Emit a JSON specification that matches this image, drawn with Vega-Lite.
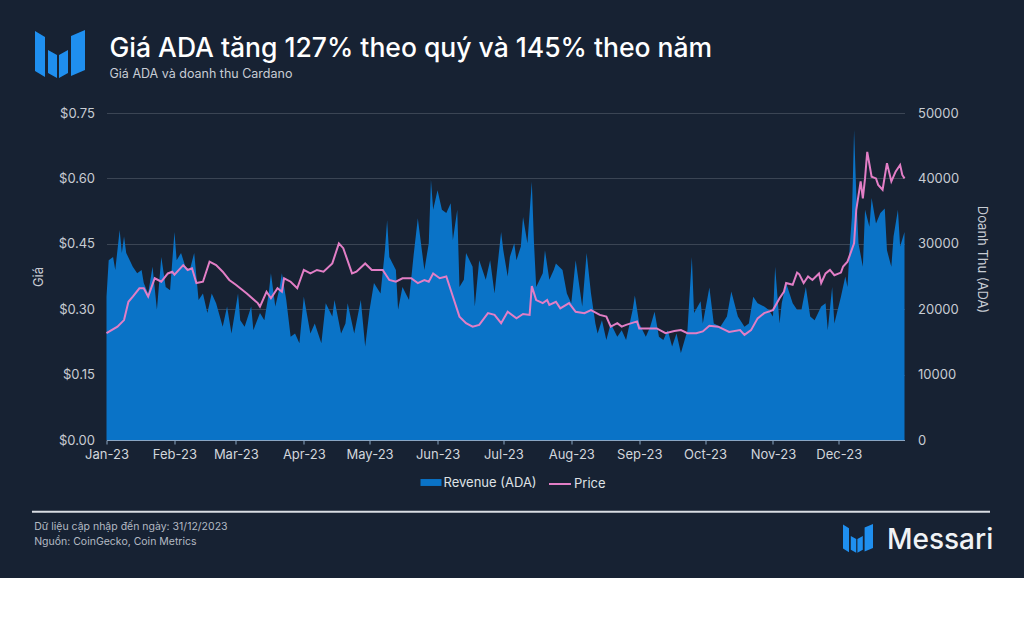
{
  "$schema": "https://vega.github.io/schema/vega-lite/v6.json",
  "width": 798,
  "height": 327,
  "autosize": {"type": "none"},
  "padding": {"left": 106.5, "top": 113, "right": 119.5, "bottom": 138},
  "background": "#172233",
  "config": {"view": {"stroke": null}, "font": "Inter"},
  "title": {
    "text": "Giá ADA tăng 127% theo quý và 145% theo năm",
    "subtitle": "Giá ADA và doanh thu Cardano",
    "anchor": "start",
    "frame": "group",
    "offset": -50,
    "dx": 3,
    "font": "Inter",
    "fontSize": 26.5,
    "fontWeight": 500,
    "color": "#ffffff",
    "subtitleFont": "Inter",
    "subtitleFontSize": 12.5,
    "subtitleColor": "#c8cdd5",
    "subtitlePadding": 5
  },
  "datasets": {
    "revenue": [
      {"date":"2023-01-01","revenue":21900},{"date":"2023-01-02","revenue":27500},{"date":"2023-01-04","revenue":28000},{"date":"2023-01-05","revenue":26000},{"date":"2023-01-07","revenue":32100},{"date":"2023-01-08","revenue":28600},{"date":"2023-01-09","revenue":31100},{"date":"2023-01-10","revenue":28600},{"date":"2023-01-13","revenue":26500},{"date":"2023-01-15","revenue":25500},{"date":"2023-01-17","revenue":26000},{"date":"2023-01-18","revenue":24000},{"date":"2023-01-20","revenue":22400},{"date":"2023-01-22","revenue":26500},{"date":"2023-01-24","revenue":19900},{"date":"2023-01-26","revenue":28000},{"date":"2023-01-28","revenue":23400},{"date":"2023-01-30","revenue":22900},
      {"date":"2023-02-01","revenue":31800},{"date":"2023-02-02","revenue":27500},{"date":"2023-02-04","revenue":28600},{"date":"2023-02-06","revenue":26500},{"date":"2023-02-08","revenue":26000},{"date":"2023-02-10","revenue":28600},{"date":"2023-02-12","revenue":21400},{"date":"2023-02-14","revenue":22400},{"date":"2023-02-16","revenue":19400},{"date":"2023-02-18","revenue":22400},{"date":"2023-02-20","revenue":20900},{"date":"2023-02-23","revenue":17300},{"date":"2023-02-25","revenue":20400},{"date":"2023-02-27","revenue":16300},
      {"date":"2023-03-02","revenue":22400},{"date":"2023-03-03","revenue":18300},{"date":"2023-03-05","revenue":17300},{"date":"2023-03-08","revenue":20400},{"date":"2023-03-09","revenue":16800},{"date":"2023-03-12","revenue":19400},{"date":"2023-03-14","revenue":18300},{"date":"2023-03-16","revenue":22400},{"date":"2023-03-17","revenue":25500},{"date":"2023-03-19","revenue":20400},{"date":"2023-03-21","revenue":23400},{"date":"2023-03-22","revenue":25500},{"date":"2023-03-24","revenue":21400},{"date":"2023-03-26","revenue":15800},{"date":"2023-03-28","revenue":16300},{"date":"2023-03-30","revenue":14800},
      {"date":"2023-04-01","revenue":21900},{"date":"2023-04-04","revenue":16300},{"date":"2023-04-06","revenue":17800},{"date":"2023-04-09","revenue":14800},{"date":"2023-04-11","revenue":20900},{"date":"2023-04-14","revenue":18900},{"date":"2023-04-15","revenue":21400},{"date":"2023-04-18","revenue":16300},{"date":"2023-04-20","revenue":17800},{"date":"2023-04-21","revenue":20900},{"date":"2023-04-24","revenue":16300},{"date":"2023-04-27","revenue":21400},{"date":"2023-04-29","revenue":14300},
      {"date":"2023-05-01","revenue":19900},{"date":"2023-05-03","revenue":24000},{"date":"2023-05-06","revenue":22400},{"date":"2023-05-08","revenue":29000},{"date":"2023-05-09","revenue":33600},{"date":"2023-05-10","revenue":28000},{"date":"2023-05-13","revenue":26000},{"date":"2023-05-14","revenue":19900},{"date":"2023-05-16","revenue":23400},{"date":"2023-05-19","revenue":21400},{"date":"2023-05-21","revenue":28000},{"date":"2023-05-23","revenue":33900},{"date":"2023-05-25","revenue":28600},{"date":"2023-05-26","revenue":26000},{"date":"2023-05-28","revenue":30100},{"date":"2023-05-29","revenue":39800},{"date":"2023-05-30","revenue":35200},
      {"date":"2023-06-01","revenue":38200},{"date":"2023-06-03","revenue":35200},{"date":"2023-06-05","revenue":34700},{"date":"2023-06-07","revenue":36200},{"date":"2023-06-08","revenue":30600},{"date":"2023-06-10","revenue":35200},{"date":"2023-06-11","revenue":23400},{"date":"2023-06-13","revenue":24500},{"date":"2023-06-14","revenue":28600},{"date":"2023-06-17","revenue":26500},{"date":"2023-06-18","revenue":20400},{"date":"2023-06-20","revenue":27500},{"date":"2023-06-23","revenue":24500},{"date":"2023-06-25","revenue":27500},{"date":"2023-06-27","revenue":22400},{"date":"2023-06-30","revenue":31800},
      {"date":"2023-07-01","revenue":29000},{"date":"2023-07-03","revenue":25000},{"date":"2023-07-04","revenue":28000},{"date":"2023-07-06","revenue":30100},{"date":"2023-07-07","revenue":27500},{"date":"2023-07-09","revenue":29600},{"date":"2023-07-10","revenue":34100},{"date":"2023-07-12","revenue":30100},{"date":"2023-07-14","revenue":39500},{"date":"2023-07-15","revenue":30100},{"date":"2023-07-16","revenue":23400},{"date":"2023-07-19","revenue":25500},{"date":"2023-07-20","revenue":29000},{"date":"2023-07-22","revenue":24500},{"date":"2023-07-24","revenue":26000},{"date":"2023-07-25","revenue":27000},{"date":"2023-07-28","revenue":26000},{"date":"2023-07-30","revenue":22400},
      {"date":"2023-08-01","revenue":20900},{"date":"2023-08-03","revenue":27500},{"date":"2023-08-06","revenue":20400},{"date":"2023-08-08","revenue":28600},{"date":"2023-08-10","revenue":22400},{"date":"2023-08-12","revenue":17800},{"date":"2023-08-13","revenue":16300},{"date":"2023-08-15","revenue":18300},{"date":"2023-08-17","revenue":15300},{"date":"2023-08-19","revenue":17800},{"date":"2023-08-22","revenue":15800},{"date":"2023-08-24","revenue":16800},{"date":"2023-08-26","revenue":15300},{"date":"2023-08-29","revenue":19900},{"date":"2023-08-30","revenue":22100},
      {"date":"2023-09-01","revenue":17800},{"date":"2023-09-04","revenue":15800},{"date":"2023-09-06","revenue":17300},{"date":"2023-09-08","revenue":19600},{"date":"2023-09-10","revenue":15800},{"date":"2023-09-12","revenue":15300},{"date":"2023-09-14","revenue":16800},{"date":"2023-09-16","revenue":14300},{"date":"2023-09-18","revenue":16300},{"date":"2023-09-20","revenue":13300},{"date":"2023-09-23","revenue":16800},{"date":"2023-09-25","revenue":28000},{"date":"2023-09-26","revenue":19400},{"date":"2023-09-29","revenue":21200},{"date":"2023-09-30","revenue":17800},
      {"date":"2023-10-03","revenue":23300},{"date":"2023-10-05","revenue":17800},{"date":"2023-10-08","revenue":17300},{"date":"2023-10-11","revenue":18900},{"date":"2023-10-13","revenue":22700},{"date":"2023-10-16","revenue":18900},{"date":"2023-10-19","revenue":17300},{"date":"2023-10-21","revenue":17800},{"date":"2023-10-23","revenue":21900},{"date":"2023-10-25","revenue":20900},{"date":"2023-10-28","revenue":20400},{"date":"2023-10-30","revenue":19900},
      {"date":"2023-11-01","revenue":18900},{"date":"2023-11-02","revenue":26500},{"date":"2023-11-04","revenue":17800},{"date":"2023-11-05","revenue":20900},{"date":"2023-11-07","revenue":24000},{"date":"2023-11-10","revenue":20900},{"date":"2023-11-12","revenue":19900},{"date":"2023-11-14","revenue":19900},{"date":"2023-11-16","revenue":23400},{"date":"2023-11-18","revenue":18900},{"date":"2023-11-20","revenue":18300},{"date":"2023-11-23","revenue":20400},{"date":"2023-11-25","revenue":20900},{"date":"2023-11-26","revenue":16800},{"date":"2023-11-28","revenue":23400},{"date":"2023-11-29","revenue":17800},
      {"date":"2023-12-02","revenue":21900},{"date":"2023-12-04","revenue":25000},{"date":"2023-12-05","revenue":23400},{"date":"2023-12-06","revenue":29600},{"date":"2023-12-07","revenue":34100},{"date":"2023-12-08","revenue":47400},{"date":"2023-12-09","revenue":37700},{"date":"2023-12-10","revenue":30100},{"date":"2023-12-12","revenue":26500},{"date":"2023-12-13","revenue":35200},{"date":"2023-12-15","revenue":32600},{"date":"2023-12-16","revenue":37000},{"date":"2023-12-18","revenue":33100},{"date":"2023-12-20","revenue":34700},{"date":"2023-12-22","revenue":35400},{"date":"2023-12-23","revenue":29000},{"date":"2023-12-25","revenue":26500},{"date":"2023-12-26","revenue":31100},{"date":"2023-12-28","revenue":35200},{"date":"2023-12-29","revenue":29600},{"date":"2023-12-31","revenue":31800}
    ],
    "price": [
      {"date":"2023-01-01","price":0.245},{"date":"2023-01-06","price":0.26},{"date":"2023-01-09","price":0.275},{"date":"2023-01-11","price":0.317},{"date":"2023-01-13","price":0.329},{"date":"2023-01-16","price":0.348},{"date":"2023-01-18","price":0.348},{"date":"2023-01-20","price":0.329},{"date":"2023-01-23","price":0.371},{"date":"2023-01-26","price":0.363},{"date":"2023-01-29","price":0.382},{"date":"2023-01-31","price":0.386},
      {"date":"2023-02-01","price":0.379},{"date":"2023-02-05","price":0.401},{"date":"2023-02-07","price":0.39},{"date":"2023-02-09","price":0.394},{"date":"2023-02-11","price":0.36},{"date":"2023-02-14","price":0.363},{"date":"2023-02-17","price":0.409},{"date":"2023-02-20","price":0.401},{"date":"2023-02-23","price":0.386},{"date":"2023-02-26","price":0.367},
      {"date":"2023-03-01","price":0.356},{"date":"2023-03-06","price":0.336},{"date":"2023-03-11","price":0.314},{"date":"2023-03-12","price":0.306},{"date":"2023-03-15","price":0.34},{"date":"2023-03-17","price":0.325},{"date":"2023-03-20","price":0.348},{"date":"2023-03-22","price":0.34},{"date":"2023-03-23","price":0.371},{"date":"2023-03-26","price":0.363},{"date":"2023-03-29","price":0.348},
      {"date":"2023-04-01","price":0.39},{"date":"2023-04-04","price":0.382},{"date":"2023-04-07","price":0.39},{"date":"2023-04-10","price":0.386},{"date":"2023-04-14","price":0.405},{"date":"2023-04-17","price":0.451},{"date":"2023-04-19","price":0.44},{"date":"2023-04-23","price":0.382},{"date":"2023-04-25","price":0.386},{"date":"2023-04-29","price":0.405},
      {"date":"2023-05-02","price":0.39},{"date":"2023-05-07","price":0.39},{"date":"2023-05-10","price":0.367},{"date":"2023-05-13","price":0.363},{"date":"2023-05-16","price":0.371},{"date":"2023-05-20","price":0.371},{"date":"2023-05-23","price":0.36},{"date":"2023-05-26","price":0.367},{"date":"2023-05-28","price":0.363},{"date":"2023-05-30","price":0.382},
      {"date":"2023-06-02","price":0.371},{"date":"2023-06-05","price":0.375},{"date":"2023-06-08","price":0.329},{"date":"2023-06-11","price":0.283},{"date":"2023-06-14","price":0.268},{"date":"2023-06-17","price":0.26},{"date":"2023-06-20","price":0.264},{"date":"2023-06-24","price":0.291},{"date":"2023-06-27","price":0.287},{"date":"2023-06-30","price":0.268},
      {"date":"2023-07-03","price":0.294},{"date":"2023-07-07","price":0.279},{"date":"2023-07-10","price":0.289},{"date":"2023-07-13","price":0.287},{"date":"2023-07-14","price":0.353},{"date":"2023-07-16","price":0.321},{"date":"2023-07-19","price":0.314},{"date":"2023-07-21","price":0.321},{"date":"2023-07-22","price":0.31},{"date":"2023-07-25","price":0.317},{"date":"2023-07-27","price":0.302},{"date":"2023-07-31","price":0.314},
      {"date":"2023-08-03","price":0.294},{"date":"2023-08-07","price":0.291},{"date":"2023-08-10","price":0.298},{"date":"2023-08-14","price":0.287},{"date":"2023-08-17","price":0.283},{"date":"2023-08-19","price":0.26},{"date":"2023-08-22","price":0.268},{"date":"2023-08-24","price":0.26},{"date":"2023-08-26","price":0.264},{"date":"2023-08-31","price":0.272},
      {"date":"2023-09-01","price":0.256},{"date":"2023-09-06","price":0.256},{"date":"2023-09-09","price":0.256},{"date":"2023-09-13","price":0.245},{"date":"2023-09-17","price":0.25},{"date":"2023-09-20","price":0.252},{"date":"2023-09-23","price":0.245},{"date":"2023-09-27","price":0.245},{"date":"2023-09-30","price":0.249},
      {"date":"2023-10-03","price":0.262},{"date":"2023-10-07","price":0.26},{"date":"2023-10-12","price":0.248},{"date":"2023-10-17","price":0.252},{"date":"2023-10-19","price":0.241},{"date":"2023-10-22","price":0.252},{"date":"2023-10-25","price":0.279},{"date":"2023-10-28","price":0.291},
      {"date":"2023-11-01","price":0.298},{"date":"2023-11-04","price":0.325},{"date":"2023-11-06","price":0.34},{"date":"2023-11-07","price":0.36},{"date":"2023-11-10","price":0.356},{"date":"2023-11-12","price":0.384},{"date":"2023-11-13","price":0.38},{"date":"2023-11-15","price":0.36},{"date":"2023-11-17","price":0.375},{"date":"2023-11-19","price":0.367},{"date":"2023-11-22","price":0.382},{"date":"2023-11-23","price":0.36},{"date":"2023-11-25","price":0.382},{"date":"2023-11-27","price":0.39},{"date":"2023-11-29","price":0.378},
      {"date":"2023-12-02","price":0.384},{"date":"2023-12-03","price":0.398},{"date":"2023-12-05","price":0.409},{"date":"2023-12-08","price":0.451},{"date":"2023-12-09","price":0.528},{"date":"2023-12-11","price":0.593},{"date":"2023-12-12","price":0.554},{"date":"2023-12-13","price":0.6},{"date":"2023-12-14","price":0.661},{"date":"2023-12-16","price":0.604},{"date":"2023-12-18","price":0.6},{"date":"2023-12-19","price":0.585},{"date":"2023-12-21","price":0.574},{"date":"2023-12-23","price":0.635},{"date":"2023-12-25","price":0.593},{"date":"2023-12-27","price":0.616},{"date":"2023-12-29","price":0.631},{"date":"2023-12-30","price":0.608},{"date":"2023-12-31","price":0.6}
    ]
  },
  "layer": [
    {
      "data": {"name": "revenue"},
      "mark": {"type": "area", "opacity": 1},
      "encoding": {
        "x": {
          "field": "date", "type": "temporal",
          "scale": {"type": "utc", "domain": [{"year":2023,"month":1,"date":1,"utc":true},{"year":2023,"month":12,"date":31,"utc":true}]},
          "axis": {
            "title": null,
            "values": [
              {"year":2023,"month":1,"date":1,"utc":true},{"year":2023,"month":2,"date":1,"utc":true},{"year":2023,"month":3,"date":1,"utc":true},{"year":2023,"month":4,"date":1,"utc":true},{"year":2023,"month":5,"date":1,"utc":true},{"year":2023,"month":6,"date":1,"utc":true},{"year":2023,"month":7,"date":1,"utc":true},{"year":2023,"month":8,"date":1,"utc":true},{"year":2023,"month":9,"date":1,"utc":true},{"year":2023,"month":10,"date":1,"utc":true},{"year":2023,"month":11,"date":1,"utc":true},{"year":2023,"month":12,"date":1,"utc":true}
            ],
            "labelExpr": "utcFormat(datum.value, '%b-%y')",
            "labelFont": "Inter", "labelFontSize": 13, "labelColor": "#d2d6dc",
            "labelFlush": false, "labelOverlap": false,
            "domainColor": "#8aa6c4", "tickColor": "#8aa6c4", "tickSize": 4,
            "labelPadding": 4, "grid": false
          }
        },
        "y": {
          "field": "revenue", "type": "quantitative",
          "scale": {"domain": [0, 50000], "nice": false},
          "axis": {
            "orient": "right", "values": [0,10000,20000,30000,40000,50000], "format": "d",
            "labelFont": "Inter", "labelFontSize": 13, "labelColor": "#c8ccd3",
            "ticks": false, "domain": false, "grid": false, "labelPadding": 13,
            "title": "Doanh Thu (ADA)", "titleFont": "Inter", "titleFontSize": 13, "titleFontWeight": "normal",
            "titleColor": "#c8ccd3", "titlePadding": 16, "titleY": 146
          }
        },
        "fill": {
          "datum": "Revenue (ADA)", "type": "nominal",
          "scale": {"domain": ["Revenue (ADA)"], "range": ["#0a73c7"]},
          "legend": {
            "title": null, "orient": "none", "legendX": 314, "legendY": 359, "direction": "horizontal",
            "padding": 0, "labelFont": "Inter", "labelFontSize": 13, "labelColor": "#dfe2e6",
            "labelOffset": 2, "symbolSize": 441, "symbolType": "M-1,-0.33H1V0.33H-1Z",
            "symbolStrokeWidth": 0, "symbolOpacity": 1
          }
        }
      }
    },
    {
      "data": {"name": "price"},
      "mark": {"type": "line", "strokeWidth": 2},
      "encoding": {
        "x": {"field": "date", "type": "temporal", "scale": {"type": "utc", "domain": [{"year":2023,"month":1,"date":1,"utc":true},{"year":2023,"month":12,"date":31,"utc":true}]}},
        "y": {
          "field": "price", "type": "quantitative",
          "scale": {"domain": [0, 0.75], "nice": false},
          "axis": {
            "orient": "left", "values": [0,0.15,0.3,0.45,0.6,0.75], "format": "$.2f",
            "labelFont": "Inter", "labelFontSize": 13, "labelColor": "#c8ccd3",
            "ticks": false, "domain": false, "labelPadding": 12,
            "grid": true, "gridColor": "#3b4554", "gridWidth": 1,
            "title": "Giá", "titleFont": "Inter", "titleFontSize": 13, "titleFontWeight": "normal",
            "titleColor": "#c8ccd3", "titlePadding": 13
          }
        },
        "stroke": {
          "datum": "Price", "type": "nominal",
          "scale": {"domain": ["Price"], "range": ["#e27ec6"]},
          "legend": {
            "title": null, "orient": "none", "legendX": 441.5, "legendY": 359, "direction": "horizontal",
            "padding": 0, "labelFont": "Inter", "labelFontSize": 13, "labelColor": "#dfe2e6",
            "labelOffset": 2, "symbolSize": 484, "symbolType": "stroke", "symbolStrokeWidth": 2
          }
        }
      }
    },
    {
      "data": {"values": [{}]},
      "mark": {"type": "point", "shape": "M-1,-0.96L-0.6,-0.72L-0.6,0.88L-1,0.64Z M-0.48,-0.2L-0.12,0L-0.12,0.92L-0.48,0.72Z M-0.04,0L0.32,-0.2L0.32,0.72L-0.04,0.92Z M0.44,-0.76L1,-1L1,0.6L0.44,0.84Z", "filled": true, "color": "#1f8fef", "opacity": 1, "size": 2500},
      "encoding": {
        "x": {"datum": {"year":2022,"month":12,"date":10,"hours":19,"utc":true}, "type": "temporal"},
        "y": {"datum": 0.883, "type": "quantitative", "scale": {"domain": [0, 0.75], "nice": false}, "axis": null}
      }
    },
    {
      "data": {"values": [{}]},
      "mark": {"type": "point", "shape": "M-1,-0.96L-0.6,-0.72L-0.6,0.88L-1,0.64Z M-0.48,-0.2L-0.12,0L-0.12,0.92L-0.48,0.72Z M-0.04,0L0.32,-0.2L0.32,0.72L-0.04,0.92Z M0.44,-0.76L1,-1L1,0.6L0.44,0.84Z", "filled": true, "color": "#1f8fef", "opacity": 1, "size": 900},
      "encoding": {
        "x": {"datum": {"year":2023,"month":12,"date":9,"hours":19,"utc":true}, "type": "temporal"},
        "y": {"datum": -0.227, "type": "quantitative", "scale": {"domain": [0, 0.75], "nice": false}, "axis": null}
      }
    },
    {
      "data": {"values": [{}]},
      "mark": {"type": "text", "text": "Messari", "font": "Inter", "fontSize": 28, "fontWeight": 500, "color": "#f0f2f5", "align": "left", "baseline": "alphabetic"},
      "encoding": {
        "x": {"datum": {"year":2023,"month":12,"date":23,"utc":true}, "type": "temporal"},
        "y": {"datum": -0.25, "type": "quantitative", "scale": {"domain": [0, 0.75], "nice": false}, "axis": null}
      }
    },
    {
      "data": {"values": [{}]},
      "mark": {"type": "rule", "color": "#d9dde3", "strokeWidth": 2},
      "encoding": {
        "x": {"datum": {"year":2022,"month":11,"date":28,"utc":true}, "type": "temporal"},
        "x2": {"datum": {"year":2024,"month":2,"date":8,"utc":true}},
        "y": {"datum": -0.1645, "type": "quantitative", "scale": {"domain": [0, 0.75], "nice": false}, "axis": null}
      }
    },
    {
      "data": {"values": [{}]},
      "mark": {"type": "text", "text": "Dữ liệu cập nhập đến ngày: 31/12/2023", "font": "Inter", "fontSize": 10.5, "color": "#b4bac3", "align": "left", "baseline": "middle"},
      "encoding": {
        "x": {"datum": {"year":2022,"month":11,"date":29,"utc":true}, "type": "temporal"},
        "y": {"datum": -0.2, "type": "quantitative", "scale": {"domain": [0, 0.75], "nice": false}, "axis": null}
      }
    },
    {
      "data": {"values": [{}]},
      "mark": {"type": "text", "text": "Nguồn: CoinGecko, Coin Metrics", "font": "Inter", "fontSize": 10.5, "color": "#b4bac3", "align": "left", "baseline": "middle"},
      "encoding": {
        "x": {"datum": {"year":2022,"month":11,"date":29,"utc":true}, "type": "temporal"},
        "y": {"datum": -0.234, "type": "quantitative", "scale": {"domain": [0, 0.75], "nice": false}, "axis": null}
      }
    }
  ],
  "resolve": {"scale": {"y": "independent"}}
}
